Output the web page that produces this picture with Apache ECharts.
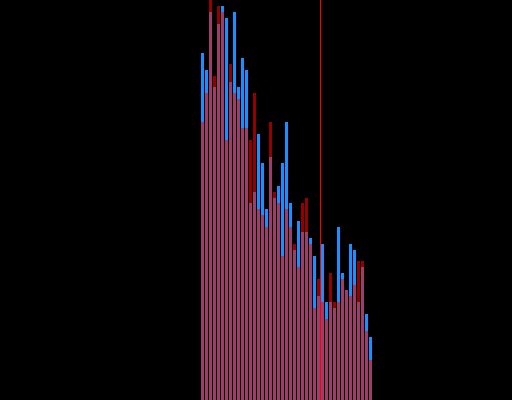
<!DOCTYPE html>
<html>
<head>
<meta charset="utf-8">
<script src="https://cdn.jsdelivr.net/npm/echarts@6/dist/echarts.min.js"></script>
<style>
html,body{margin:0;padding:0;background:#000;}
#chart{width:512px;height:400px;}
</style>
</head>
<body>
<div id="chart"></div>
<script>
// bin centres (x) for each bar
var bins = [50.5,51.5,52.5,53.5,54.5,55.5,56.5,57.5,58.5,59.5,60.5,61.5,62.5,63.5,64.5,65.5,66.5,67.5,68.5,69.5,70.5,71.5,72.5,73.5,74.5,75.5,76.5,77.5,78.5,79.5,80.5,81.5,82.5,83.5,84.5,85.5,86.5,87.5,88.5,89.5,90.5,91.5,92.5];
var blueValues = [86.75,82.5,97,78.25,94,98.5,95.5,79.5,97,78.25,85.5,82.5,49.25,52,66.5,59.25,47.75,60.75,50.5,53.5,59.25,69.5,49.25,37.5,44.75,42,42,40.5,36,26,39,24.5,24.5,23,43.25,31.75,27.5,39,37.5,24.5,33.25,21.5,15.75];
var redValues = [69.5,76.75,100,81,98.5,97,65,84,76.75,75.25,68,68,65,76.75,47.75,46.25,43.25,69.5,52,49.25,36,47.75,43.25,39,33.25,49.25,50.5,39,23,30.25,24.5,20.25,31.75,24.5,24.5,30.25,27.5,26,28.75,34.75,34.75,17.25,10];
var markerX = 80;

function pairs(vals){ return bins.map(function(b,i){ return [b, vals[i]]; }); }

var chart = echarts.init(document.getElementById('chart'));
chart.setOption({
  backgroundColor: '#000',
  animation: false,
  grid: {left: 0, right: 0, top: 0, bottom: 0},
  xAxis: {type: 'value', min: -0.125, max: 127.875, show: false},
  yAxis: {type: 'value', min: 0, max: 100, show: false},
  series: [
    {type: 'bar', data: pairs(blueValues), barWidth: 3, barGap: '-100%',
     itemStyle: {color: '#1890ff'}},
    {type: 'bar', data: pairs(redValues), barWidth: 3, barGap: '-100%',
     itemStyle: {color: 'rgba(255,0,0,0.58)'},
     markLine: {silent: true, symbol: 'none', label: {show: false},
       lineStyle: {color: '#ff0000', width: 1, type: 'solid'},
       data: [{xAxis: markerX}]}}
  ]
});
</script>
</body>
</html>
